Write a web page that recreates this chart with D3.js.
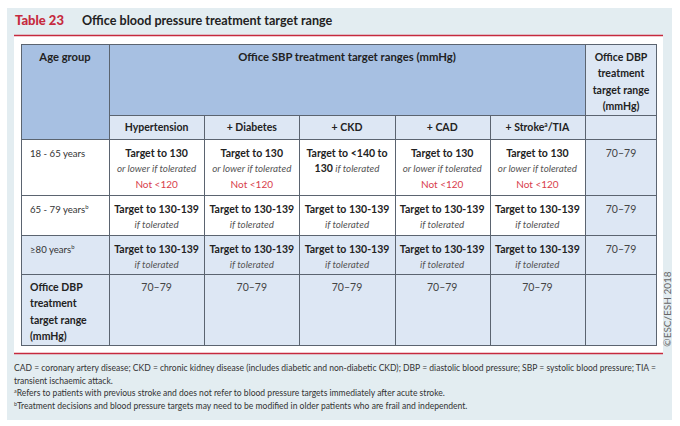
<!DOCTYPE html>
<html>
<head>
<meta charset="utf-8">
<script src="https://cdn.jsdelivr.net/npm/d3@7"></script>
<style>
  html, body { margin: 0; padding: 0; background: #fff; }
  svg { display: block; font-family: Lato, "Open Sans", sans-serif; }
</style>
</head>
<body>
<svg id="svg_table" width="680" height="426"></svg>
<script>
// table content
const tableNumber = 'Table 23';
const tableTitle = 'Office blood pressure treatment target range';
const ageHeader = 'Age group';
const sbpHeader = 'Office SBP treatment target ranges (mmHg)';
const dbpHeaderLines = ['Office DBP', 'treatment', 'target range', '(mmHg)'];
const comorbidities = ['Hypertension', '+ Diabetes', '+ CKD', '+ CAD', '+ Stroke{a}/TIA'];
const ageGroups = ['18 - 65 years', '65 - 79 years{b}', '≥80 years{b}'];

// three text lines per cell: target (bold), qualifier (italic), lower limit (red)
const sbpTargets = [
  ['Target to 130', 'Target to 130', 'Target to <140 to', 'Target to 130', 'Target to 130'],
  ['Target to 130-139', 'Target to 130-139', 'Target to 130-139', 'Target to 130-139', 'Target to 130-139'],
  ['Target to 130-139', 'Target to 130-139', 'Target to 130-139', 'Target to 130-139', 'Target to 130-139']
];
const sbpQualifiers = [
  ['or lower if tolerated', 'or lower if tolerated', '*130* if tolerated', 'or lower if tolerated', 'or lower if tolerated'],
  ['if tolerated', 'if tolerated', 'if tolerated', 'if tolerated', 'if tolerated'],
  ['if tolerated', 'if tolerated', 'if tolerated', 'if tolerated', 'if tolerated']
];
const sbpLimits = [
  ['Not <120', 'Not <120', '', 'Not <120', 'Not <120'],
  ['', '', '', '', ''],
  ['', '', '', '', '']
];
const dbpByAge = ['70–79', '70–79', '70–79'];
const dbpRowLabel = ['Office DBP', 'treatment', 'target range', '(mmHg)'];
const dbpByComorbidity = ['70–79', '70–79', '70–79', '70–79', '70–79'];

const footnotes = [
  'CAD = coronary artery disease; CKD = chronic kidney disease (includes diabetic and non-diabetic CKD); DBP = diastolic blood pressure; SBP = systolic blood pressure; TIA =',
  'transient ischaemic attack.',
  '{a}Refers to patients with previous stroke and does not refer to blood pressure targets immediately after acute stroke.',
  '{b}Treatment decisions and blood pressure targets may need to be modified in older patients who are frail and independent.'
];
const copyright = '©ESC/ESH 2018';

// colours
const panelBg = '#e3edf1';
const darkBlue = '#a7c0e2';
const lightBlue = '#dde7f4';
const lineCol = '#5b6470';
const red = '#c62a3e';
const ink = '#222';

const svg = d3.select('#svg_table');

// layout
const tableLeft = 21, ageRight = 109, sbpRight = 585, tableRight = 657;
const rowEdges = [44, 115, 139, 195, 235, 274, 346];

const x = d3.scaleBand()
  .domain(comorbidities)
  .range([ageRight, sbpRight]);

const rowTop = g => rowEdges[2 + ageGroups.indexOf(g)];
const rowBottom = g => rowEdges[3 + ageGroups.indexOf(g)];

// write text with {x} superscripts and *bold* parts
function richText(sel, str, size) {
  const parts = str.split(/(\{\w\}|\*[^*]+\*)/).filter(p => p !== '');
  let raised = false;
  parts.forEach(p => {
    const t = sel.append('tspan');
    if (p[0] === '{') {
      t.text(p.slice(1, -1)).attr('font-size', size * 0.62).attr('dy', -size * 0.4);
      raised = true;
    } else {
      t.text(p.replace(/\*/g, ''));
      if (p[0] === '*') t.attr('font-weight', 700).attr('font-style', 'normal').attr('fill', ink).attr('font-size', 10.5);
      if (raised) { t.attr('dy', size * 0.4); raised = false; }
    }
  });
}

// background panel
svg.append('rect')
  .attr('x', 7).attr('y', 8).attr('width', 665).attr('height', 412)
  .attr('fill', panelBg);
svg.append('rect')
  .attr('x', 14).attr('y', 36).attr('width', 649).attr('height', 317)
  .attr('fill', '#fff');

// title
svg.append('text')
  .attr('x', 15).attr('y', 25)
  .attr('font-size', 13).attr('font-weight', 900).attr('fill', red)
  .text(tableNumber);
svg.append('text')
  .attr('x', 82).attr('y', 25)
  .attr('font-size', 12.6).attr('font-weight', 700).attr('fill', ink)
  .text(tableTitle);

[35.5, 353.5].forEach(ly => {
  svg.append('line')
    .attr('x1', 14).attr('x2', 663).attr('y1', ly).attr('y2', ly)
    .attr('stroke', red).attr('stroke-width', 1.6);
});

// cell fills
const fills = svg.append('g');
fills.append('rect').attr('x', tableLeft).attr('y', rowEdges[0])
  .attr('width', ageRight - tableLeft).attr('height', rowEdges[2] - rowEdges[0]).attr('fill', darkBlue);
fills.append('rect').attr('x', ageRight).attr('y', rowEdges[0])
  .attr('width', sbpRight - ageRight).attr('height', rowEdges[1] - rowEdges[0]).attr('fill', darkBlue);
fills.append('rect').attr('x', sbpRight).attr('y', rowEdges[0])
  .attr('width', tableRight - sbpRight).attr('height', rowEdges[1] - rowEdges[0]).attr('fill', lightBlue);
fills.append('rect').attr('x', ageRight).attr('y', rowEdges[1])
  .attr('width', tableRight - ageRight).attr('height', rowEdges[2] - rowEdges[1]).attr('fill', lightBlue);

fills.selectAll('.agefill')
  .data(ageGroups)
  .join('rect')
  .attr('class', 'agefill')
  .attr('x', tableLeft).attr('y', d => rowTop(d))
  .attr('width', tableRight - tableLeft)
  .attr('height', d => rowBottom(d) - rowTop(d))
  .attr('fill', (d, i) => i === 2 ? lightBlue : '#fff');
// DBP column is always shaded
fills.append('rect').attr('x', sbpRight).attr('y', rowEdges[2])
  .attr('width', tableRight - sbpRight).attr('height', rowEdges[6] - rowEdges[2]).attr('fill', lightBlue);
fills.append('rect').attr('x', tableLeft).attr('y', rowEdges[5])
  .attr('width', tableRight - tableLeft).attr('height', rowEdges[6] - rowEdges[5]).attr('fill', lightBlue);

// grid lines
const grid = svg.append('g')
  .attr('stroke', lineCol).attr('stroke-width', 1).attr('fill', 'none');
grid.append('rect')
  .attr('x', tableLeft + 0.5).attr('y', rowEdges[0] + 0.5)
  .attr('width', tableRight - tableLeft - 1).attr('height', rowEdges[6] - rowEdges[0] - 1);
const colEdges = [ageRight].concat(comorbidities.map(c => x(c) + x.bandwidth()));
grid.selectAll('.vline')
  .data(colEdges)
  .join('line')
  .attr('x1', d => Math.round(d) + 0.5).attr('x2', d => Math.round(d) + 0.5)
  .attr('y1', d => (d === ageRight || d === sbpRight) ? rowEdges[0] : rowEdges[1])
  .attr('y2', rowEdges[6]);
grid.selectAll('.hline')
  .data(rowEdges.slice(1, 6))
  .join('line')
  .attr('x1', (d, i) => i === 0 ? ageRight : tableLeft).attr('x2', tableRight)
  .attr('y1', d => d + 0.5).attr('y2', d => d + 0.5);

// header text
const fs = 10.5;
const head = svg.append('g').attr('font-weight', 700).attr('font-size', fs)
  .attr('fill', ink).attr('text-anchor', 'middle');
head.append('text').attr('x', (tableLeft + ageRight) / 2).attr('y', 61)
  .attr('font-size', 11.2).text(ageHeader);
head.append('text').attr('x', (ageRight + sbpRight) / 2).attr('y', 61)
  .attr('font-size', 11.3).text(sbpHeader);
head.selectAll('.dbph')
  .data(dbpHeaderLines)
  .join('text')
  .attr('x', (sbpRight + tableRight) / 2)
  .attr('y', (d, i) => 61 + i * 16.3)
  .text(d => d);
head.selectAll('.colh')
  .data(comorbidities)
  .join('text')
  .attr('x', d => x(d) + x.bandwidth() / 2)
  .attr('y', 131)
  .each(function(d) { richText(d3.select(this), d, fs); });

// age rows
const body = svg.append('g').attr('fill', ink).attr('font-size', fs);
body.selectAll('.agelab')
  .data(ageGroups)
  .join('text')
  .attr('x', 30)
  .attr('y', d => rowTop(d) + 17.5)
  .attr('fill', '#333').attr('font-size', 9.6)
  .each(function(d) { richText(d3.select(this), d, 9.6); });

ageGroups.forEach((g, r) => {
  const top = rowTop(g);
  const cells = body.append('g').attr('text-anchor', 'middle');
  cells.selectAll('.target')
    .data(sbpTargets[r])
    .join('text')
    .attr('x', (d, i) => x(comorbidities[i]) + x.bandwidth() / 2)
    .attr('y', top + 17.5)
    .attr('font-weight', 700)
    .text(d => d);
  cells.selectAll('.qual')
    .data(sbpQualifiers[r])
    .join('text')
    .attr('x', (d, i) => x(comorbidities[i]) + x.bandwidth() / 2)
    .attr('y', top + 33)
    .attr('font-style', 'italic').attr('font-size', 9.8).attr('fill', '#555')
    .each(function(d) { richText(d3.select(this), d, fs); });
  cells.selectAll('.limit')
    .data(sbpLimits[r])
    .join('text')
    .attr('x', (d, i) => x(comorbidities[i]) + x.bandwidth() / 2)
    .attr('y', top + 48.5)
    .attr('fill', '#d8404c').attr('font-size', 10)
    .text(d => d);
  cells.append('text')
    .attr('x', (sbpRight + tableRight) / 2)
    .attr('y', top + 17.5)
    .attr('fill', '#444')
    .text(dbpByAge[r]);
});

// DBP target row
body.selectAll('.dbplab')
  .data(dbpRowLabel)
  .join('text')
  .attr('x', 30)
  .attr('y', (d, i) => rowEdges[5] + 17 + i * 16.3)
  .attr('font-weight', 700)
  .text(d => d);
body.selectAll('.dbpval')
  .data(dbpByComorbidity)
  .join('text')
  .attr('x', (d, i) => x(comorbidities[i]) + x.bandwidth() / 2)
  .attr('y', rowEdges[5] + 17)
  .attr('text-anchor', 'middle').attr('fill', '#444')
  .text(d => d);

// footnotes
const noteSize = 8.55;
const notes = svg.append('g').attr('font-size', noteSize).attr('fill', '#333');
notes.selectAll('text')
  .data(footnotes)
  .join('text')
  .attr('x', 14)
  .attr('y', (d, i) => 371 + i * 12.7)
  .each(function(d) { richText(d3.select(this), d, noteSize); });

svg.append('text')
  .attr('transform', 'translate(671,309) rotate(-90)')
  .attr('text-anchor', 'middle')
  .attr('font-size', 10).attr('fill', '#666')
  .text(copyright);
</script>
</body>
</html>
